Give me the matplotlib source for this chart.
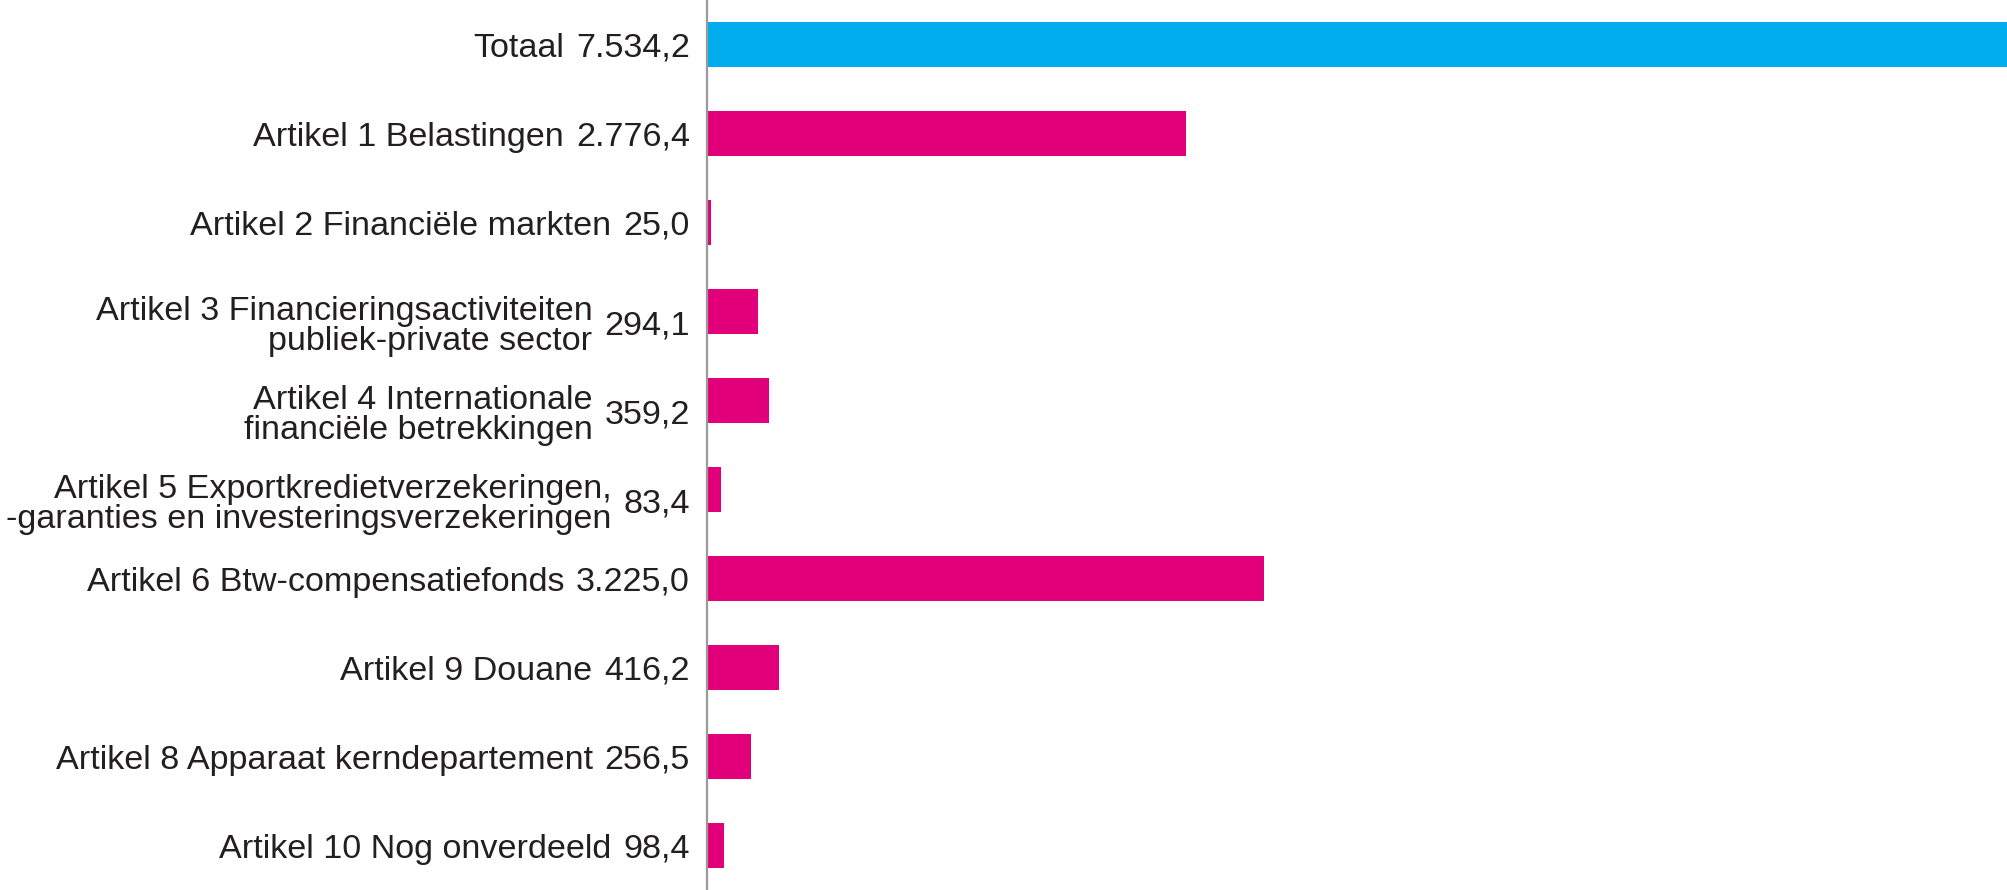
import matplotlib.pyplot as plt

# Data (mln euro)
labels = [
    "Totaal",
    "Artikel 1 Belastingen",
    "Artikel 2 Financiële markten",
    "Artikel 3 Financieringsactiviteiten\npubliek-private sector",
    "Artikel 4 Internationale\nfinanciële betrekkingen",
    "Artikel 5 Exportkredietverzekeringen,\n-garanties en investeringsverzekeringen",
    "Artikel 6 Btw-compensatiefonds",
    "Artikel 9 Douane",
    "Artikel 8 Apparaat kerndepartement",
    "Artikel 10 Nog onverdeeld",
]
values = [7534.2, 2776.4, 25.0, 294.1, 359.2, 83.4, 3225.0, 416.2, 256.5, 98.4]

blue = "#00AEEF"
pink = "#E2007A"
colors = [blue] + [pink] * (len(values) - 1)

plt.rcParams['font.family'] = ['Liberation Sans', 'DejaVu Sans']


def nl_format(v):
    s = f"{v:,.1f}"
    return s.replace(",", "X").replace(".", ",").replace("X", ".")


fig = plt.figure(figsize=(20.08, 8.9), dpi=100)
left = 707 / 2008
ax = fig.add_axes([left, 0, 1 - left, 1])

ypos = list(range(len(values)))
ax.barh(ypos, values, height=0.5, color=colors)
ax.set_xlim(0, values[0])
ax.set_ylim(len(values) - 0.5, -0.5)

for side in ["top", "right", "bottom"]:
    ax.spines[side].set_visible(False)
ax.spines["left"].set_color("#9a9a9a")
ax.spines["left"].set_linewidth(1.6)
ax.set_xticks([])
ax.set_yticks([])

fs = 24.6
txt_color = "#231f20"
for y, name, v in zip(ypos, labels, values):
    # labels in the original sit a little below the bar centre
    dy = -15 if "\n" in name else -4
    vt = ax.annotate(nl_format(v), xy=(0, y), xycoords=("axes fraction", "data"),
                     xytext=(-17, dy), textcoords="offset pixels",
                     ha="right", va="center", fontsize=fs, color=txt_color)
    ax.annotate(name, xy=(0, 0.5), xycoords=vt,
                xytext=(-12, 0), textcoords="offset pixels",
                ha="right", va="center", fontsize=fs, color=txt_color,
                multialignment="right", linespacing=0.93)

fig.savefig("out.png", dpi=100)
